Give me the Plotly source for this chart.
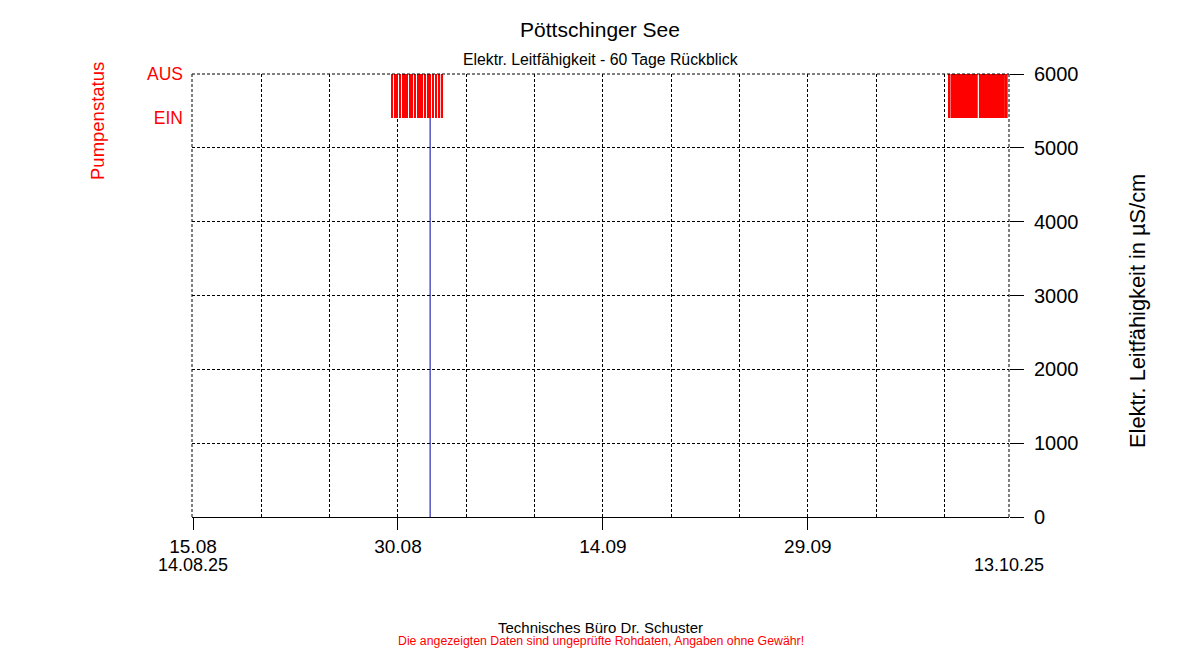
import plotly.graph_objects as go
import pandas as pd

# ---------------- data ----------------
title_text = "Pöttschinger See"
subtitle_text = "Elektr. Leitfähigkeit - 60 Tage Rückblick"

x_range = ["2025-08-14 22:15", "2025-10-13 17:18"]
major_tick_dates = ["2025-08-15", "2025-08-30", "2025-09-14", "2025-09-29"]
major_tick_labels = ["15.08", "30.08", "14.09", "29.09"]
start_label = "14.08.25"
end_label = "13.10.25"

cond_ticks = [0, 1000, 2000, 3000, 4000, 5000, 6000]

# conductivity measurements (µS/cm)
cond_times = ["2025-09-01 08:30", "2025-09-01 08:30"]
cond_values = [0, 6000]

# pump ON periods (AUS->EIN bars)
pump_starts = [
    "2025-08-29 12:30", "2025-08-29 17:10", "2025-08-29 21:50", "2025-08-30 02:30",
    "2025-08-30 07:10", "2025-08-30 10:45", "2025-08-30 14:10", "2025-08-30 19:50",
    "2025-08-31 00:40", "2025-08-31 05:20", "2025-08-31 09:50", "2025-08-31 13:20",
    "2025-08-31 18:10", "2025-08-31 22:50", "2025-09-01 03:20", "2025-09-01 08:05",
    "2025-09-01 12:45", "2025-09-01 17:20", "2025-09-01 23:15", "2025-09-02 03:45",
    "2025-10-09 06:55", "2025-10-09 10:25", "2025-10-11 12:30", "2025-10-13 12:00",
]
pump_ends = [
    "2025-08-29 14:20", "2025-08-29 19:00", "2025-08-29 23:35", "2025-08-30 04:35",
    "2025-08-30 09:15", "2025-08-30 12:45", "2025-08-30 17:25", "2025-08-30 22:05",
    "2025-08-31 02:35", "2025-08-31 07:25", "2025-08-31 11:25", "2025-08-31 14:55",
    "2025-08-31 20:05", "2025-09-01 01:25", "2025-09-01 06:05", "2025-09-01 10:05",
    "2025-09-01 15:20", "2025-09-01 19:30", "2025-09-02 02:15", "2025-09-02 05:40",
    "2025-10-09 08:40", "2025-10-11 10:25", "2025-10-13 10:05", "2025-10-13 15:00",
]
pump_levels = ["EIN", "AUS"]
pump_level_values = [0, 1]

footer_text = "Technisches Büro Dr. Schuster"
disclaimer_text = "Die angezeigten Daten sind ungeprüfte Rohdaten, Angaben ohne Gewähr!"

# ---------------- figure ----------------
FONT = "Arial, 'Liberation Sans', sans-serif"
DASH = "3px,2px"

s = pd.to_datetime(pump_starts)
e = pd.to_datetime(pump_ends)
centers = s + (e - s) / 2
widths = (e - s).total_seconds() * 1000

fig = go.Figure()

fig.add_trace(go.Bar(
    x=centers, y=[1] * len(centers), base=[0] * len(centers), width=widths,
    marker=dict(color="#ff0000", line=dict(width=0)),
    yaxis="y2", showlegend=False, hoverinfo="skip",
))

fig.add_trace(go.Scatter(
    x=pd.to_datetime(cond_times), y=cond_values, mode="lines",
    line=dict(color="#0000a0", width=1), yaxis="y", showlegend=False,
))

fig.update_layout(
    width=1200, height=650,
    margin=dict(l=192, r=191, t=74, b=133),
    paper_bgcolor="white", plot_bgcolor="white",
    font=dict(family=FONT, color="black"),
    barmode="overlay",
    showlegend=False,
    title=dict(text=title_text, x=0.5, xref="container", xanchor="center",
               y=1 - 30 / 650, yref="container", yanchor="middle",
               font=dict(size=21, family=FONT, color="black")),
    xaxis=dict(
        type="date", range=x_range,
        tickmode="array", tickvals=major_tick_dates, ticktext=major_tick_labels,
        ticks="outside", ticklen=12, tickcolor="black", tickwidth=1,
        tickfont=dict(size=19, family=FONT, color="black"),
        showline=True, linecolor="black", linewidth=1,
        showgrid=True, gridcolor="black", gridwidth=1, griddash=DASH,
        zeroline=False,
        minor=dict(dtick=5 * 86400000, tick0="2025-08-15", showgrid=True,
                   gridcolor="black", gridwidth=1, griddash=DASH, ticks=""),
    ),
    yaxis=dict(
        side="right", range=[0, 6000], tickmode="array", tickvals=cond_ticks,
        ticks="outside", ticklen=14, tickcolor="black", tickwidth=1,
        tickfont=dict(size=20, family=FONT, color="black"),
        ticklabelstandoff=6,
        showline=False, zeroline=False,
        showgrid=True, gridcolor="black", gridwidth=1, griddash=DASH,
    ),
    yaxis2=dict(
        overlaying="y", side="left", range=[1 - 443 / 44, 1],
        tickmode="array", tickvals=pump_level_values, ticktext=pump_levels,
        ticks="", tickfont=dict(size=17.5, family=FONT, color="#ff0000"),
        ticklabelstandoff=8,
        showgrid=False, zeroline=False, showline=False,
    ),
)

# dashed frame (left, right, top)
for sh in [
    dict(x0=0, x1=0, y0=0, y1=1),
    dict(x0=1, x1=1, y0=0, y1=1),
    dict(x0=0, x1=1, y0=1, y1=1),
]:
    fig.add_shape(type="line", xref="paper", yref="paper",
                  line=dict(color="black", width=1, dash=DASH), layer="above", **sh)

annots = [
    dict(text=subtitle_text, x=0.5, y=(517 - 59) / 443, xref="paper", yref="paper",
         xanchor="center", yanchor="middle", font=dict(size=15.8, color="black")),
    dict(text="Pumpenstatus", x=(97 - 192) / 817, y=(517 - 60) / 443, xref="paper", yref="paper",
         xanchor="center", yanchor="top", textangle=-90, font=dict(size=18.5, color="#ff0000")),
    dict(text="Elektr. Leitfähigkeit in µS/cm", x=(1137 - 192) / 817, y=(517 - 311) / 443,
         xref="paper", yref="paper", xanchor="center", yanchor="middle", textangle=-90,
         font=dict(size=21.8, color="black")),
    dict(text=start_label, x=major_tick_dates[0], y=(517 - 565) / 443, xref="x", yref="paper",
         xanchor="center", yanchor="middle", font=dict(size=18, color="black")),
    dict(text=end_label, x=1, y=(517 - 565) / 443, xref="paper", yref="paper",
         xanchor="center", yanchor="middle", font=dict(size=18, color="black")),
    dict(text=footer_text, x=0.5, y=(517 - 627) / 443, xref="paper", yref="paper",
         xanchor="center", yanchor="middle", font=dict(size=15, color="black")),
    dict(text=disclaimer_text, x=0.5, y=(517 - 641) / 443, xref="paper", yref="paper",
         xanchor="center", yanchor="middle", font=dict(size=12.3, color="#ff0000")),
]
for a in annots:
    a.setdefault("showarrow", False)
    a["font"]["family"] = FONT
    fig.add_annotation(**a)

fig.write_html(
    "out.html",
    config={"displayModeBar": False},
    post_script="document.body.style.margin='0';document.body.style.padding='0';",
)
